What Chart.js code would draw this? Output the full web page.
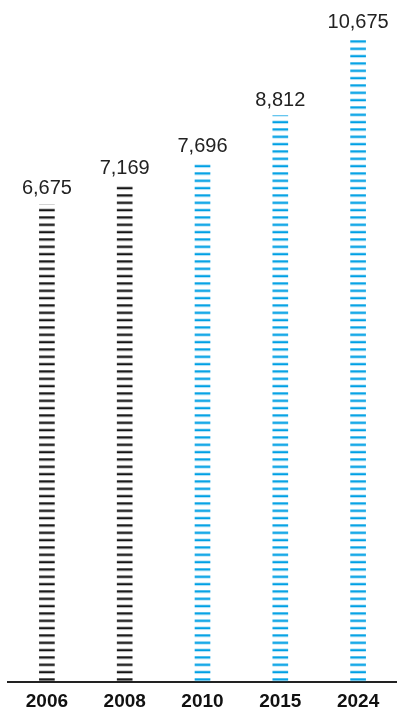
<!DOCTYPE html>
<html><head><meta charset="utf-8">
<script src="https://cdn.jsdelivr.net/npm/chart.js@4/dist/chart.umd.min.js"></script>
<style>html,body{margin:0;padding:0;background:#fff;overflow:hidden}body{width:397px;height:713px}#wrap{width:397px;height:721px;position:relative}</style>
</head><body><div id="wrap"><canvas id="c"></canvas></div>
<script>
const categories = ['2006', '2008', '2010', '2015', '2024'];
const values = [6675, 7169, 7696, 8812, 10675];
const valueLabels = ['6,675', '7,169', '7,696', '8,812', '10,675'];
const barColors = ['#151515', '#151515', '#00a0e4', '#00a0e4', '#00a0e4'];
const yMin = -4850, yMax = 11600;

const canvas = document.getElementById('c');
const ctx0 = canvas.getContext('2d');
const TILE = 22;
function stripePattern(color) {
  const P = TILE / 3, t = 2.3, g = 1.6;
  const c = document.createElement('canvas'); c.width = 4; c.height = TILE;
  const x = c.getContext('2d'); x.fillStyle = color;
  for (let k = 0; k < 3; k++) { const b = TILE - k * P - g; x.fillRect(0, b - t, 4, t); }
  return ctx0.createPattern(c, 'repeat');
}
const patterns = barColors.map(stripePattern);

const stripeAlign = {
  id: 'stripeAlign',
  beforeDatasetsDraw(chart) {
    const base = chart.chartArea.bottom;
    patterns.forEach(p => { if (p.setTransform) p.setTransform(new DOMMatrix([1, 0, 0, 1, 0, base - TILE])); });
  },
  afterDatasetsDraw(chart) {
    const ctx = chart.ctx;
    const meta = chart.getDatasetMeta(0);
    ctx.save();
    ctx.font = '20px "Liberation Sans", Arial, sans-serif';
    ctx.fillStyle = '#222';
    ctx.textAlign = 'center';
    ctx.textBaseline = 'alphabetic';
    meta.data.forEach((el, i) => ctx.fillText(valueLabels[i], el.x, el.y - 10));
    ctx.restore();
  }
};

new Chart(canvas, {
  type: 'bar',
  data: {
    labels: categories,
    datasets: [{ data: values, base: yMin, backgroundColor: patterns, borderWidth: 0, barThickness: 15 }]
  },
  options: {
    responsive: true, maintainAspectRatio: false, animation: false, devicePixelRatio: 1,
    layout: { padding: { left: 8, right: 0, top: 0, bottom: 0 } },
    plugins: { legend: { display: false }, tooltip: { enabled: false } },
    scales: {
      y: { display: false, min: yMin, max: yMax },
      x: {
        grid: { display: false, drawTicks: false },
        border: { display: true, color: '#222', width: 2 },
        ticks: { color: '#111', padding: 8, font: { family: '"Liberation Sans", Arial, sans-serif', size: 19, weight: 'bold' } }
      }
    }
  },
  plugins: [stripeAlign]
});
</script></body></html>
